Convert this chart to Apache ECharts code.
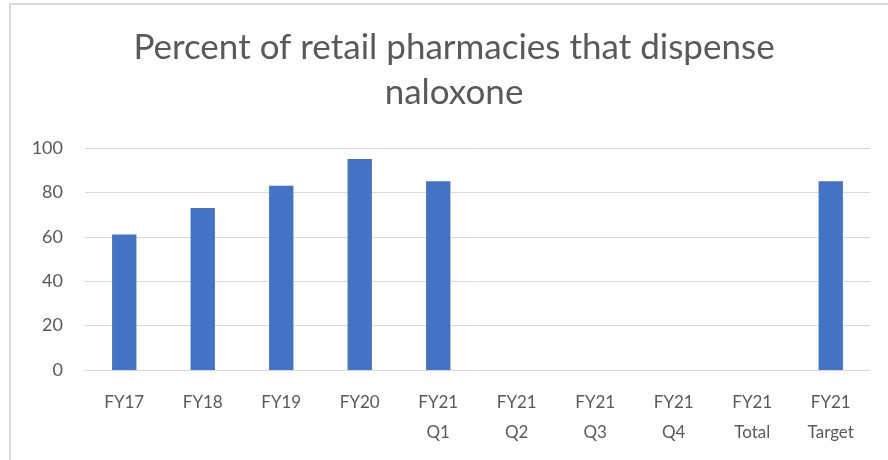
<!DOCTYPE html>
<html lang="en">
	<head>
		<meta charset="UTF-8">
		<title>Percent of retail pharmacies that dispense naloxone</title>
		<style>
			body { margin: 0; background: #fff; }
			#frame { position: absolute; left: 9px; top: 3px; width: 900px; height: 480px; border: 2px solid #d9d9d9; box-sizing: border-box; }
			#chart { position: absolute; left: 0; top: 0; width: 888px; height: 460px; }
		</style>
	</head>
	<body>
		<div id="frame"></div>
		<div id="chart"></div>
		<script src="https://cdn.jsdelivr.net/npm/echarts@6/dist/echarts.min.js"></script>
		<script>
			// data
			var categories = ["FY17", "FY18", "FY19", "FY20", "FY21\nQ1", "FY21\nQ2", "FY21\nQ3", "FY21\nQ4", "FY21\nTotal", "FY21\nTarget"];
			var percents = [61, 73, 83, 95, 85, null, null, null, null, 85];
			var yTicks = [0, 20, 40, 60, 80, 100];

			var textColor = "#595959";
			var font = "Lato, 'Open Sans', sans-serif";

			var chart = echarts.init(document.getElementById("chart"), null, { renderer: "canvas" });
			var option = {
				animation: false,
				backgroundColor: "transparent",
				title: {
					text: "Percent of retail pharmacies that dispense\nnaloxone",
					left: 449, // text centre sits a bit right of the middle, as in the original
					top: 20,
					textAlign: "center",
					textStyle: {
						color: textColor,
						fontFamily: font,
						fontWeight: "normal",
						fontSize: 35,
						lineHeight: 45
					}
				},
				grid: { left: 85, right: 18, top: 148, bottom: 90 },
				xAxis: {
					type: "category",
					data: categories,
					axisLine: { lineStyle: { color: "#d9d9d9", width: 1 } },
					axisTick: { show: false },
					axisLabel: {
						color: textColor,
						fontFamily: font,
						fontSize: 17,
						lineHeight: 30,
						margin: 18
					}
				},
				yAxis: {
					type: "value",
					min: yTicks[0],
					max: yTicks[yTicks.length - 1],
					interval: 20,
					axisLine: { show: false },
					axisTick: { show: false },
					splitLine: { lineStyle: { color: "#d9d9d9", width: 1 } },
					axisLabel: {
						color: textColor,
						fontFamily: font,
						fontSize: 18,
						margin: 22
					}
				},
				series: [{
					type: "bar",
					data: percents,
					barWidth: "31%",
					itemStyle: { color: "#4472c4" }
				}]
			};
			chart.setOption(option);
		</script>
	</body>
</html>
